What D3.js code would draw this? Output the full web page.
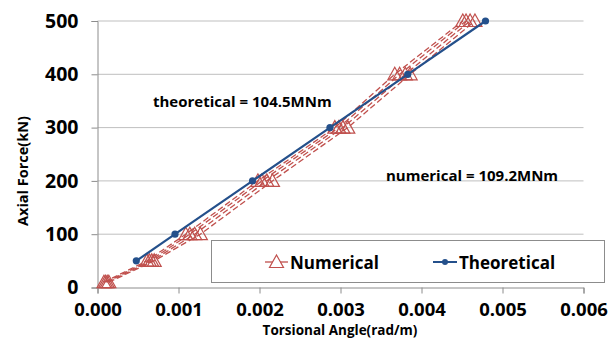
<!DOCTYPE html>
<html><head><meta charset="utf-8">
<script src="https://cdn.jsdelivr.net/npm/d3@7"></script>
<style>
html,body{margin:0;padding:0;background:#fff;}
svg text{font-family:"Open Sans",sans-serif;font-weight:bold;fill:#000;}
</style></head><body>
<svg id="c" width="611" height="338"></svg>
<script>
// ---- data ----
const forces = [10, 50, 100, 200, 300, 400, 500];
const numerical1 = [0.00008, 0.00061, 0.00109, 0.00198, 0.00293, 0.00367, 0.00451];
const numerical2 = [0.00010, 0.00064, 0.00114, 0.00203, 0.00298, 0.00373, 0.00455];
const numerical3 = [0.00012, 0.00067, 0.00120, 0.00209, 0.00303, 0.00380, 0.00460];
const numerical4 = [0.00014, 0.00070, 0.00127, 0.00216, 0.00309, 0.00386, 0.00466];
const theoForces = [50, 100, 200, 300, 400, 500];
const theoAngles = [0.000479, 0.000957, 0.001914, 0.00287, 0.00383, 0.00479];
const xTicks = [0, 0.001, 0.002, 0.003, 0.004, 0.005, 0.006];
const yTicks = [0, 100, 200, 300, 400, 500];
const labels = {x: "Torsional Angle(rad/m)", y: "Axial Force(kN)",
  theo: "theoretical = 104.5MNm", num: "numerical = 109.2MNm",
  legNum: "Numerical", legTheo: "Theoretical"};

const red = "#C0504D", blue = "#24508B";
const FONT = "'Open Sans', sans-serif";
const svg = d3.select("#c");
const x = d3.scaleLinear().domain([0, 0.006]).range([97.5, 583.5]);
const y = d3.scaleLinear().domain([0, 500]).range([287.5, 21]);

// gridlines
svg.append("g").selectAll("line").data(yTicks.filter(d => d > 0)).join("line")
  .attr("x1", x(0)).attr("x2", x(0.006))
  .attr("y1", d => y(d)).attr("y2", d => y(d))
  .attr("stroke", "#BFBFBF").attr("stroke-width", 1);

// y axis
const ya = svg.append("g").attr("transform", `translate(${x(0)},0)`)
  .call(d3.axisLeft(y).tickValues(yTicks).tickSize(6).tickFormat(d3.format("d")).tickPadding(13));
ya.select(".domain").attr("stroke", "#8C8C8C");
ya.selectAll(".tick line").attr("stroke", "#8C8C8C");
ya.selectAll(".tick text").style("font-size", "19.5px").style("font-family", FONT).style("font-weight", "bold");

// x axis
const xa = svg.append("g").attr("transform", `translate(0,${y(0)})`)
  .call(d3.axisBottom(x).tickValues(xTicks).tickSize(6).tickFormat(d3.format(".3f")).tickPadding(9));
xa.select(".domain").attr("stroke", "#8C8C8C");
xa.selectAll(".tick line").attr("stroke", "#8C8C8C");
xa.selectAll(".tick text").style("font-size", "18.5px").style("font-family", FONT).style("font-weight", "bold");

// numerical series
const numSeries = [numerical1, numerical2, numerical3, numerical4];
const line = d3.line().x(d => x(d[0])).y(d => y(d[1]));
const triPath = "M0,-7L7,5.5L-7,5.5Z";
numSeries.forEach(s => {
  const pts = s.map((a, i) => [a, forces[i]]);
  svg.append("path").datum(pts).attr("d", line)
    .attr("fill", "none").attr("stroke", red).attr("stroke-width", 1.3)
    .attr("stroke-dasharray", "6,3");
  svg.append("g").selectAll("path").data(pts).join("path")
    .attr("transform", d => `translate(${x(d[0])},${y(d[1])})`)
    .attr("d", triPath).attr("fill", "none").attr("stroke", red).attr("stroke-width", 1.2);
});

// theoretical
const tpts = theoAngles.map((a, i) => [a, theoForces[i]]);
svg.append("path").datum(tpts).attr("d", line)
  .attr("fill", "none").attr("stroke", blue).attr("stroke-width", 2.2);
svg.append("g").selectAll("circle").data(tpts).join("circle")
  .attr("cx", d => x(d[0])).attr("cy", d => y(d[1])).attr("r", 3.6).attr("fill", blue);

// annotations
svg.append("text").attr("x", 153).attr("y", 106.5).style("font-size", "15px").text(labels.theo);
svg.append("text").attr("x", 386).attr("y", 180.5).style("font-size", "15px").text(labels.num);

// axis titles
svg.append("text").attr("x", 340).attr("y", 334.5).attr("text-anchor", "middle")
  .style("font-size", "13.5px").text(labels.x);
svg.append("text").attr("transform", "translate(28,171) rotate(-90)").attr("text-anchor", "middle")
  .style("font-size", "14.5px").text(labels.y);

// legend
const lg = svg.append("g");
lg.append("rect").attr("x", 211.5).attr("y", 240.5).attr("width", 393).attr("height", 42)
  .attr("fill", "#fff").attr("stroke", "#8C8C8C").attr("stroke-width", 1);
lg.append("line").attr("x1", 265).attr("x2", 288).attr("y1", 262).attr("y2", 262)
  .attr("stroke", red).attr("stroke-width", 1.3);
lg.append("path").attr("transform", "translate(276.5,262)").attr("d", triPath)
  .attr("fill", "#fff").attr("stroke", red).attr("stroke-width", 1.2);
lg.append("text").attr("x", 290).attr("y", 268.5).style("font-size", "17px").text(labels.legNum);
lg.append("line").attr("x1", 433).attr("x2", 457).attr("y1", 262).attr("y2", 262)
  .attr("stroke", blue).attr("stroke-width", 2);
lg.append("circle").attr("cx", 445).attr("cy", 262).attr("r", 3).attr("fill", blue);
lg.append("text").attr("x", 459).attr("y", 268.5).style("font-size", "17px").text(labels.legTheo);
</script>
</body></html>
